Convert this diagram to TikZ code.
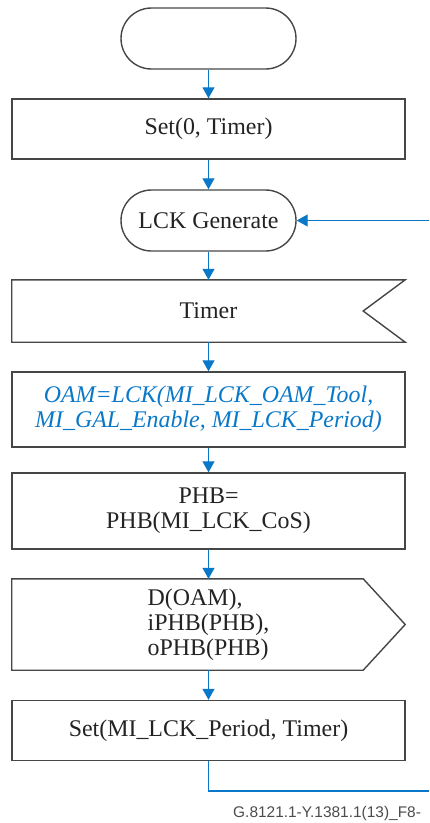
\documentclass[tikz,border=0pt]{standalone}
\usepackage{fontspec}
\setmainfont{Liberation Serif}
\newfontfamily\captionfont{Liberation Sans}
\usetikzlibrary{arrows.meta}
\definecolor{flowblue}{RGB}{10,120,200}
\definecolor{boxgray}{RGB}{70,70,70}
\definecolor{textgray}{RGB}{35,35,35}

\begin{document}
\begin{tikzpicture}[x=1bp, y=-1bp,
    font=\fontsize{24}{25}\selectfont, text=textgray,
    boxline/.style={draw=boxgray, line width=1.4bp},
    terminal/.style={boxline, rounded corners=30.5bp, minimum width=175bp, minimum height=61bp, inner sep=0pt},
    taskbox/.style={boxline, minimum width=393bp, inner sep=0pt, align=center},
    sigbox/.style={minimum width=393bp, inner sep=0pt},
    flowline/.style={draw=flowblue, line width=1.2bp},
    flow/.style={flowline, -{Triangle[length=11bp,width=12bp]}}]
        \useasboundingbox (0,0) rectangle (429,823);

        % Start and first timer set
        \node[terminal] (start) at (208.5,38.5) {};
        \node[taskbox, minimum height=60bp] (setzero) at (208.5,129) {Set(0, Timer)};

        % Generate state
        \node[terminal] (gen) at (208.5,220.5) {LCK Generate};

        % Timer input (notch on the right)
        \node[sigbox, minimum height=62bp] (timer) at (208.5,311) {Timer};
        \draw[boxline] (timer.north west) -- (timer.north east) -- ([xshift=-42bp]timer.east)
            -- (timer.south east) -- (timer.south west) -- cycle;

        % OAM and PHB tasks
        \node[taskbox, minimum height=75bp, text=flowblue, font=\fontsize{24}{25}\selectfont\itshape] (oam) at (208.5,409.5)
            {OAM=LCK(MI\_LCK\_OAM\_Tool,\\MI\_GAL\_Enable, MI\_LCK\_Period)};
        \node[taskbox, minimum height=76bp] (phb) at (208.5,511) {PHB=\\PHB(MI\_LCK\_CoS)};

        % Output (point on the right)
        \node[sigbox, minimum height=91bp, align=left] (out) at (208.5,624.5) {D(OAM),\\iPHB(PHB),\\oPHB(PHB)};
        \draw[boxline] (out.north west) -- ([xshift=-42bp]out.north east) -- (out.east)
            -- ([xshift=-42bp]out.south east) -- (out.south west) -- cycle;

        % Restart timer
        \node[taskbox, minimum height=60bp] (setper) at (208.5,730.5) {Set(MI\_LCK\_Period, Timer)};

        % Flow arrows
        \draw[flow] (start) -- (setzero);
        \draw[flow] (setzero) -- (gen);
        \draw[flow] (gen) -- (timer);
        \draw[flow] (timer) -- (oam);
        \draw[flow] (oam) -- (phb);
        \draw[flow] (phb) -- (out);
        \draw[flow] (out) -- (setper);

        % Loop back to LCK Generate
        \coordinate (loopdown) at (429,791);
        \coordinate (loopin) at (429,220.5);
        \draw[flowline] (setper.south) |- (loopdown);
        \draw[flow] (loopin) -- (gen.east);

        % Figure id
        \node[anchor=base west, font=\captionfont\fontsize{15.5}{18}\selectfont, text=black!70, inner sep=0pt] (figid) at (233,817)
            {G.8121.1-Y.1381.1(13)\_F8-};

    \end{tikzpicture}
\end{document}
